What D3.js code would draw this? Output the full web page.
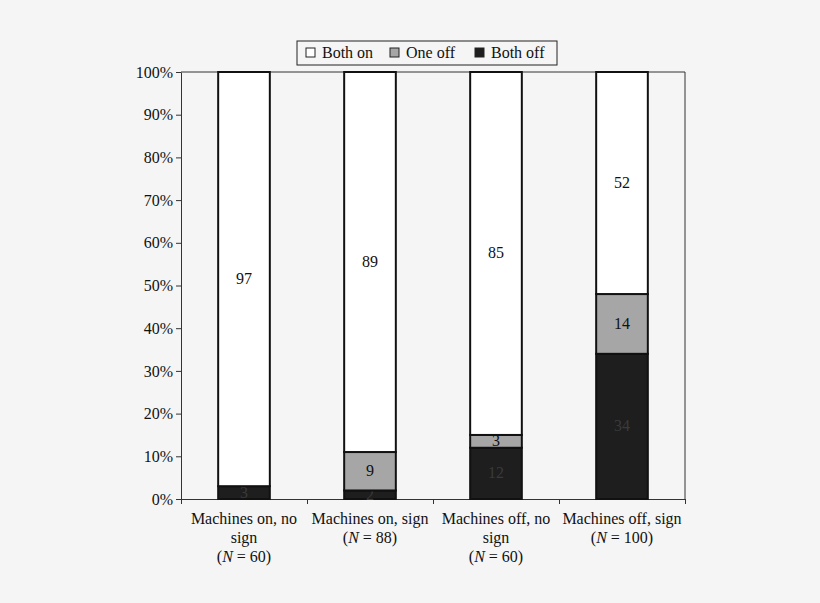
<!DOCTYPE html><html><head><meta charset="utf-8"><script src="https://cdn.jsdelivr.net/npm/d3@7"></script>
<style>body{margin:0;background:#f5f5f5}svg{display:block;font-family:"Liberation Serif","Times New Roman",serif}</style></head><body><svg id="c" width="820" height="603"></svg><script>
const categories=[["Machines on, no","sign","60"],["Machines on, sign","","88"],["Machines off, no","sign","60"],["Machines off, sign","","100"]];
const bothOff=[3,2,12,34];
const oneOff=[0,9,3,14];
const bothOn=[97,89,85,52];
const seriesNames=["Both on","One off","Both off"];
const colors={"Both off":"#1e1e1e","One off":"#a6a6a6","Both on":"#ffffff"};
const yTicks=[0,10,20,30,40,50,60,70,80,90,100];
const svg=d3.select("#c");
const L=181,R=685,T=72,B=499;
const x=d3.scaleBand().domain(d3.range(4)).range([L,R]).paddingInner(0.59).paddingOuter(0.295);
const y=d3.scaleLinear().domain([0,100]).range([B,T]);
svg.append("path").attr("d",`M${L},${T}H${R}V${B}`).attr("fill","none").attr("stroke","#333").attr("stroke-width",1);
const ya=svg.append("g").attr("transform",`translate(${L},0)`).call(d3.axisLeft(y).tickValues(yTicks).tickFormat(d=>d+"%").tickSize(5).tickSizeOuter(0));
ya.selectAll("text").attr("font-size",16).attr("fill","#111").style("font-family","Liberation Serif");
const xa=svg.append("g").attr("transform",`translate(0,${B})`).call(d3.axisBottom(d3.scaleLinear().domain([0,4]).range([L,R])).tickValues([0,1,2,3,4]).tickFormat("").tickSize(5).tickSizeOuter(0));
svg.selectAll(".domain,.tick line").attr("stroke","#333");
categories.forEach((c,i)=>{
 let base=0;
 [["Both off",bothOff[i]],["One off",oneOff[i]],["Both on",bothOn[i]]].forEach(([n,v])=>{
  if(v>0){
   svg.append("rect").attr("x",x(i)).attr("width",x.bandwidth()).attr("y",y(base+v)).attr("height",y(base)-y(base+v))
    .attr("fill",colors[n]).attr("stroke","#111").attr("stroke-width",2);
   svg.append("text").attr("x",x(i)+x.bandwidth()/2).attr("y",(y(base)+y(base+v))/2+5).attr("text-anchor","middle")
    .attr("font-size",16).attr("fill",n==="Both off"?"#3a3a3a":"#111").text(v);
  }
  base+=v;
 });
 const cx=x(i)+x.bandwidth()/2;
 const t=svg.append("text").attr("text-anchor","middle").attr("font-size",16).attr("fill","#111");
 let ln=0;
 t.append("tspan").attr("x",cx).attr("y",B+25).text(c[0]);
 if(c[1]){ln++;t.append("tspan").attr("x",cx).attr("y",B+25+19*ln).text(c[1]);}
 ln++;
 const tn=t.append("tspan").attr("x",cx).attr("y",B+25+19*ln);
 tn.append("tspan").text("(");tn.append("tspan").attr("font-style","italic").text("N");tn.append("tspan").text(" = "+c[2]+")");
});
const lg=svg.append("g");
lg.append("rect").attr("x",297).attr("y",41).attr("width",260).attr("height",24).attr("fill","#f5f5f5").attr("stroke","#222");
const lx=[306,390,475];
seriesNames.forEach((n,i)=>{
 lg.append("rect").attr("x",lx[i]).attr("y",48).attr("width",9).attr("height",9).attr("fill",colors[n]).attr("stroke","#222");
 lg.append("text").attr("x",lx[i]+16).attr("y",58).attr("font-size",16).attr("fill","#111").text(n);
});
</script></body></html>
